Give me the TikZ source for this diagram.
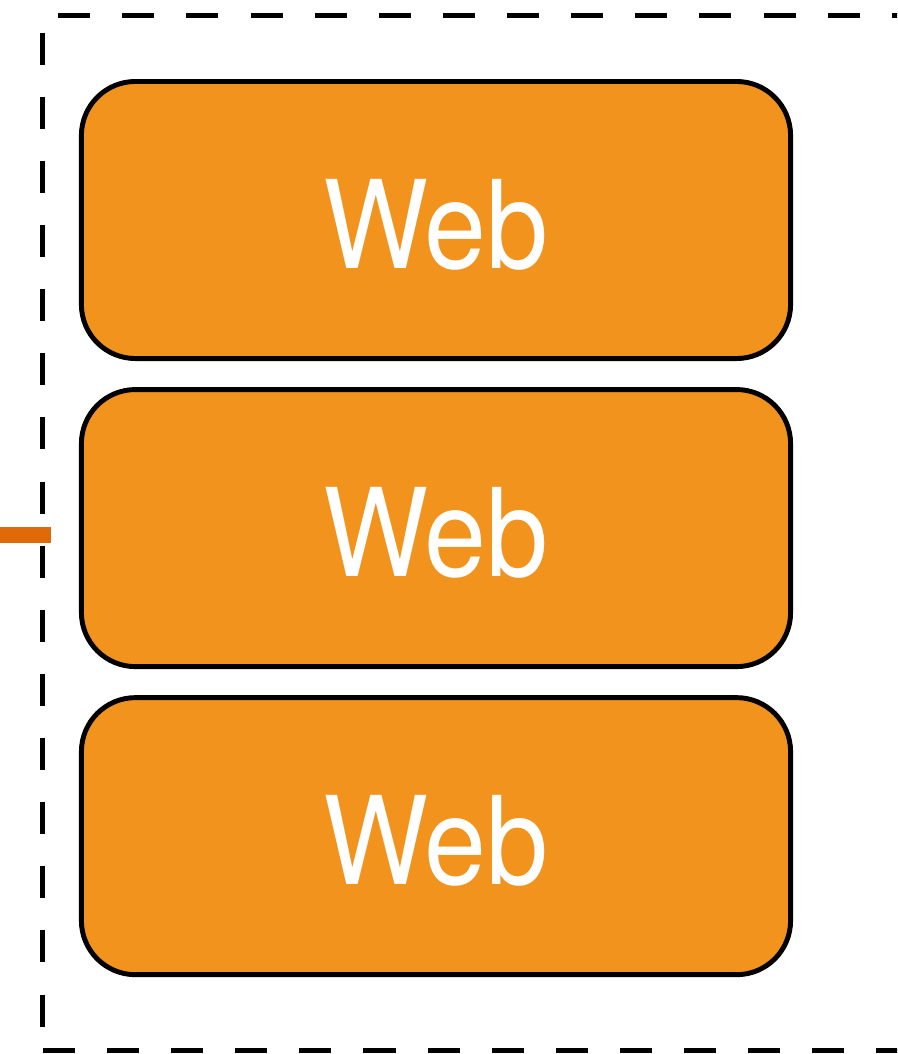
\documentclass[tikz,border=0pt]{standalone}
\usepackage{fontspec}
\setmainfont{TeX Gyre Heros}[FakeStretch=0.91]
\usetikzlibrary{positioning}
\definecolor{weborange}{HTML}{F2931D}
\definecolor{strokeorange}{HTML}{E06A0A}
\begin{document}
\begin{tikzpicture}[x=0.025cm, y=-0.025cm, node distance=0.775cm]
      \tikzset{
	  webbox/.style={rectangle, rounded corners=1.35cm, draw=black, fill=weborange, line width=3.5pt, outer sep=0pt, minimum width=17.725cm, minimum height=6.925cm, text=white, text height=2.45cm, font=\fontsize{87}{90}\selectfont},
	  tier/.style={rectangle, draw=black, dash pattern=on 22.8pt off 22.8pt, line width=3.5pt, inner sep=0pt, outer sep=0pt, minimum width=22.925cm, minimum height=25.85cm},
	  inflow/.style={draw=strokeorange, line width=0.4cm}
      }

      \clip (0,0) rectangle (897,1054);

      \node [tier] (group) at (501.5,533) {};

      \node [webbox] (web1) at (436,220) {Web};
      \node [webbox, below=of web1] (web2) {Web};
      \node [webbox, below=of web2] (web3) {Web};

      \coordinate (client) at (0,535);
      \draw [inflow] (client) -- ([xshift=0.2cm]group.west |- client);
\end{tikzpicture}
\end{document}
